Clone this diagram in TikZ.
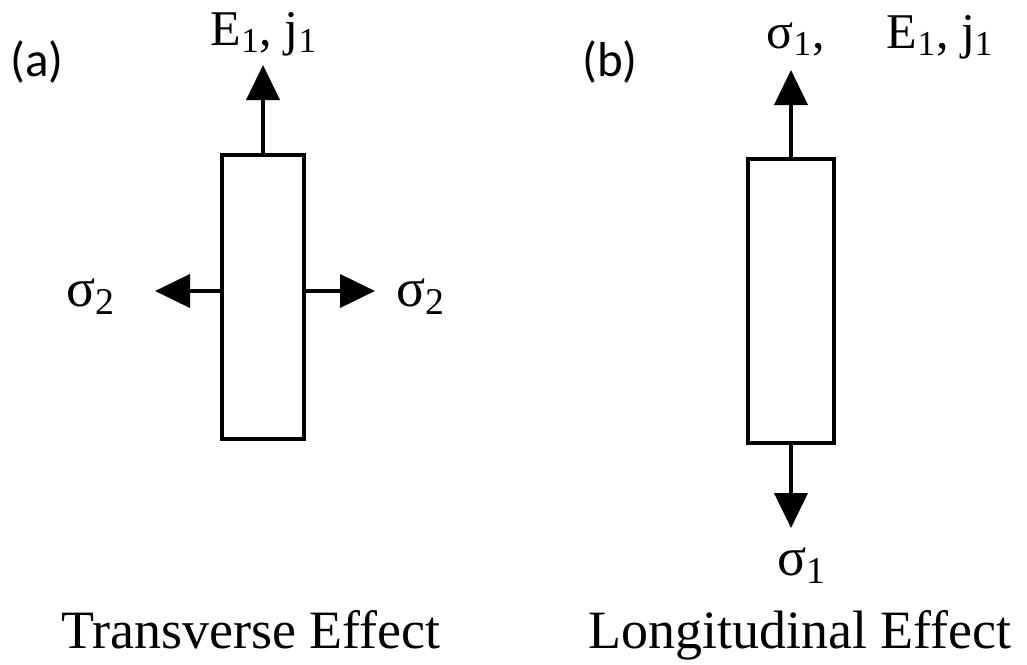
\documentclass[tikz,border=0pt]{standalone}
\usepackage{fontspec}
\setmainfont{Liberation Serif}
\newfontfamily\panelfont{Carlito}
\usetikzlibrary{arrows.meta,positioning}

\tikzset{
    bar/.style={draw,line width=2pt,minimum width=41pt,minimum height=142pt,inner sep=0pt},
    force/.style={line width=2pt,-{Triangle[length=17.5pt,width=16.5pt]}},
    quantity/.style={font=\fontsize{25}{28}\selectfont,inner sep=0pt},
    stress/.style={font=\fontsize{27}{30}\selectfont,inner sep=0pt},
    panel/.style={font=\panelfont\fontsize{24.5}{28}\selectfont,inner sep=0pt},
    caption/.style={font=\fontsize{27}{30}\selectfont,inner sep=0pt,anchor=base}
}

\begin{document}
\begin{tikzpicture}[x=0.5pt,y=-0.5pt]
    \useasboundingbox (0,0) rectangle (1027,664);

    % (a) transverse
    \node[panel] (pa) at (37,62) {(a)};
    \node[bar] (boxa) at (263,296.5) {};
    \coordinate (atop) at (263,65);
    \coordinate (aleft) at (155,291);
    \coordinate (aright) at (375,291);
    \draw[force] (boxa.north) -- (atop);
    \draw[force] (aleft -| boxa.west) -- (aleft);
    \draw[force] (aright -| boxa.east) -- (aright);
    \node[quantity] (Eja) at (264,34) {E\textsubscript{1}, j\textsubscript{1}};
    \node[stress] (s2l) at (91,297) {σ\textsubscript{2}};
    \node[stress] (s2r) at (421,297) {σ\textsubscript{2}};
    \node[caption] (capa) at (251,648) {Transverse Effect};

    % (b) longitudinal
    \node[panel] (pb) at (610,62) {(b)};
    \node[bar,minimum width=43pt] (boxb) at (791,300.5) {};
    \coordinate (btop) at (791,70);
    \coordinate (bbot) at (791,528);
    \draw[force] (boxb.north) -- (btop);
    \draw[force] (boxb.south) -- (bbot);
    \node[quantity] (sEjb) at (880,37) {σ\textsubscript{1},\quad\ E\textsubscript{1}, j\textsubscript{1}};
    \node[stress] (s1b) at (802,566) {σ\textsubscript{1}};
    \node[caption] (capb) at (800,648) {Longitudinal Effect};
\end{tikzpicture}
\end{document}
